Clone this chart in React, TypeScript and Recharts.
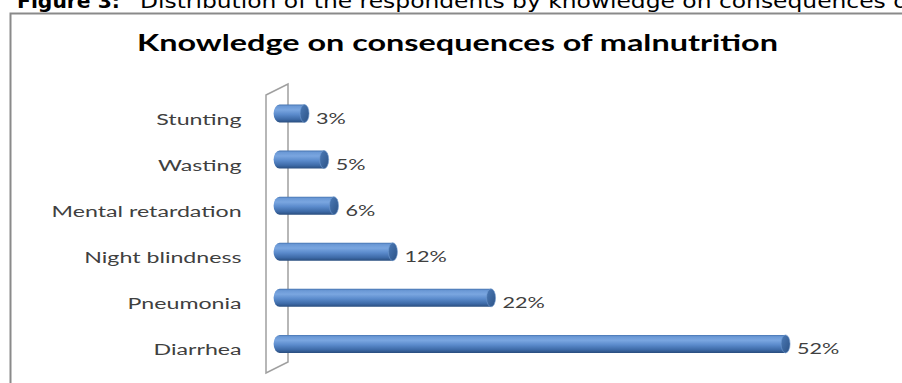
import { BarChart, Bar, XAxis, YAxis, LabelList } from 'recharts';

const categories = ['Stunting', 'Wasting', 'Mental retardation', 'Night blindness', 'Pneumonia', 'Diarrhea'];
const percents = [3, 5, 6, 12, 22, 52];
const xDomain = [0, 60];

const chartTitle = 'Knowledge on consequences of malnutrition';
const captionBold = 'Figure 3:';
const captionText = 'Distribution of the respondents by knowledge on consequences of malnutrition';

const data = categories.map((name, i) => ({ name, value: percents[i] }));

const W = 902;
const H = 383;
const margin = { top: 90.5, right: 33.4, bottom: 16, left: 39.6 };
const yAxisWidth = 240;
const plotLeft = margin.left + yAxisWidth;
const plotTop = margin.top;
const plotBottom = H - margin.bottom;

// rounded back end + elliptical front cap, like an Excel 3D cylinder
const CylinderBar = (props: any) => {
  const { x, y, width, height, index } = props;
  if (!width || width <= 0) return null;
  const ry = height / 2;
  const backRx = 6;
  const capRx = 4.5;
  const cx = x + width - capRx;
  const cy = y + ry;
  const body = `M ${x} ${y} L ${cx} ${y} L ${cx} ${y + height} L ${x} ${y + height} A ${backRx} ${ry} 0 0 1 ${x} ${y} Z`;
  return (
    <g>
      <defs>
        <linearGradient id={`body${index}`} x1="0" y1="0" x2="0" y2="1">
          <stop offset="0%" stopColor="#4573b0" />
          <stop offset="10%" stopColor="#6b99d6" />
          <stop offset="30%" stopColor="#7aa6e0" />
          <stop offset="55%" stopColor="#5b8bcc" />
          <stop offset="82%" stopColor="#3e6ba8" />
          <stop offset="100%" stopColor="#294d7e" />
        </linearGradient>
        <linearGradient id={`cap${index}`} x1="0" y1="0" x2="1" y2="1">
          <stop offset="0%" stopColor="#4c7bb8" />
          <stop offset="100%" stopColor="#2c5285" />
        </linearGradient>
      </defs>
      <path d={body} fill={`url(#body${index})`} />
      <ellipse cx={cx} cy={cy} rx={capRx} ry={ry} fill={`url(#cap${index})`} stroke="#6e98cf" strokeWidth={0.6} />
    </g>
  );
};

const ValueLabel = (props: any) => {
  const { x, y, width, height, value } = props;
  return (
    <g transform={`translate(${x + width + 7},${y + height / 2 + 10}) scale(1.35,1)`}>
      <text x={0} y={0} fontFamily="Lato" fontSize={16} fill="#404040">
        {value}%
      </text>
    </g>
  );
};

const CategoryTick = (props: any) => {
  const { x, y, payload } = props;
  return (
    <g transform={`translate(${x},${y + 11}) scale(1.45,1)`}>
      <text x={0} y={0} textAnchor="end" fontFamily="Lato" fontSize={16} fill="#404040">
        {payload.value}
      </text>
    </g>
  );
};

export default function App() {
  return (
    <div style={{ position: 'absolute', left: 0, top: 0, width: W, height: H, overflow: 'hidden', background: '#fff' }}>
      <svg width={W} height={H} style={{ position: 'absolute', left: 0, top: 0 }}>
        <text
          x={17}
          y={8}
          fontFamily="DejaVu Sans"
          fontSize={20}
          fontWeight="bold"
          fill="#000"
          textLength={103}
          lengthAdjust="spacingAndGlyphs"
        >
          {captionBold}
        </text>
        <g transform="translate(140,8) scale(1.17,1)">
          <text x={0} y={0} fontFamily="DejaVu Sans" fontSize={20} fill="#000">
            {captionText}
          </text>
        </g>
        <rect x={10.5} y={13.5} width={1000} height={1000} fill="none" stroke="#8a8a8a" strokeWidth={2} />
        <text
          x={137}
          y={51}
          fontFamily="Lato"
          fontWeight="bold"
          fontSize={22}
          fill="#000"
          textLength={641}
          lengthAdjust="spacingAndGlyphs"
        >
          {chartTitle}
        </text>
        <polygon
          points={`${plotLeft - 13.6},${plotTop + 4.5} ${plotLeft + 8.4},${plotTop - 6.5} ${plotLeft + 8.4},${plotBottom - 5} ${plotLeft - 13.6},${plotBottom + 6}`}
          fill="none"
          stroke="#a0a0a0"
          strokeWidth={1.5}
        />
      </svg>
      <div style={{ position: 'absolute', left: 0, top: 0 }}>
        <BarChart width={W} height={H} data={data} layout="vertical" margin={margin}>
          <XAxis type="number" domain={xDomain} hide />
          <YAxis
            type="category"
            dataKey="name"
            width={yAxisWidth}
            axisLine={false}
            tickLine={false}
            tickSize={0}
            tickMargin={38}
            tick={<CategoryTick />}
            interval={0}
          />
          <Bar dataKey="value" barSize={18} shape={<CylinderBar />} isAnimationActive={false}>
            <LabelList dataKey="value" content={<ValueLabel />} />
          </Bar>
        </BarChart>
      </div>
    </div>
  );
}
